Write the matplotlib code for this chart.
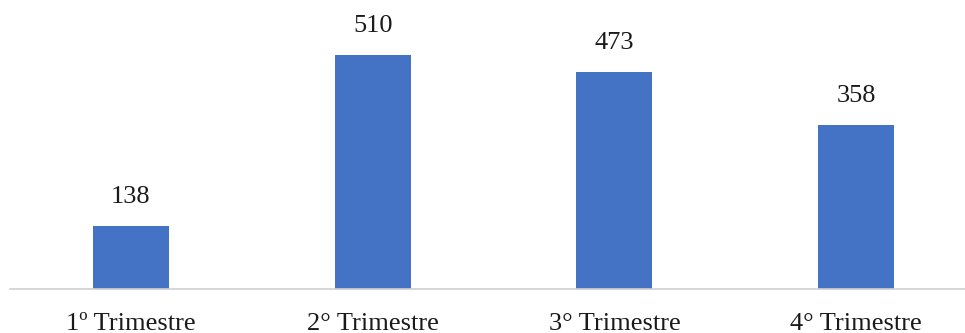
import matplotlib.pyplot as plt

categories = ['1º Trimestre', '2° Trimestre', '3° Trimestre', '4° Trimestre']
values = [138, 510, 473, 358]

plt.rcParams['font.family'] = ['Liberation Serif', 'DejaVu Serif']

fig = plt.figure(figsize=(9.65, 3.33), dpi=100)
ax = fig.add_axes([0.0104, 0.1321, 0.9896, 0.8267])

x = range(len(categories))
bars = ax.bar(x, values, width=0.314, color='#4472C4')

for b, v in zip(bars, values):
    ax.annotate(str(v), (b.get_x() + b.get_width() / 2, v),
                xytext=(0, 13), textcoords='offset points',
                ha='center', va='bottom', fontsize=19, color='#1a1a1a')

ax.set_xlim(-0.5, 3.45)
ax.set_ylim(0, 600)
ax.set_xticks(list(x))
ax.set_xticklabels(categories, fontsize=19, color='#1a1a1a')
ax.tick_params(axis='x', length=0, pad=17)
ax.set_yticks([])

for s in ['top', 'right', 'left']:
    ax.spines[s].set_visible(False)
ax.spines['bottom'].set_color('#d0d0d0')
ax.spines['bottom'].set_linewidth(1.2)

fig.savefig('out.png', dpi=100)
